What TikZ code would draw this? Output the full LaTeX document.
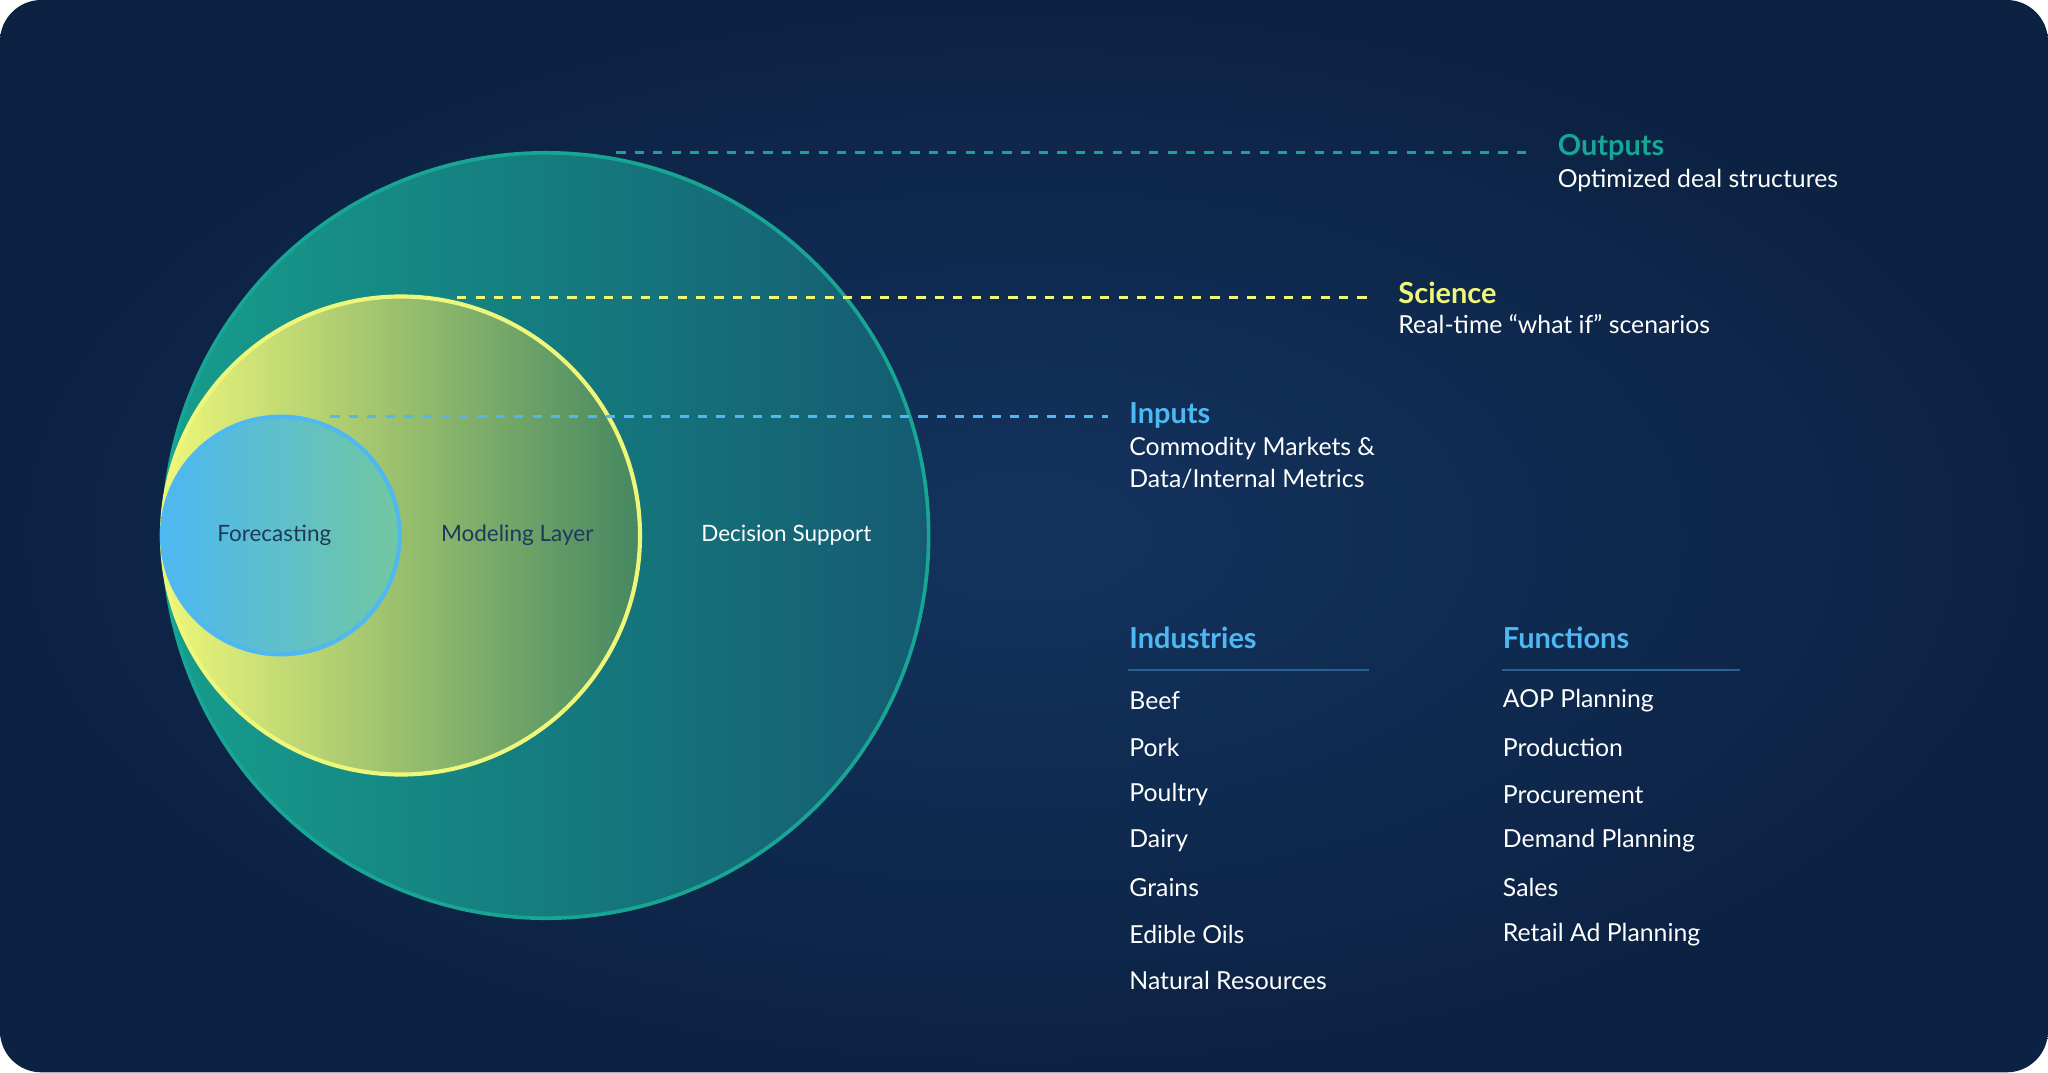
\documentclass[tikz,border=0pt]{standalone}
\usepackage{fontspec}
\setmainfont{Lato}
\definecolor{navy}{HTML}{13335E}
\definecolor{navyedge}{HTML}{0C2243}
\definecolor{tealc}{HTML}{17A594}
\definecolor{yellowc}{HTML}{EEF77A}
\definecolor{bluec}{HTML}{4DB8F2}
\definecolor{darktext}{HTML}{1D3A5C}
\tikzset{
  head/.style={anchor=west, inner sep=0pt, font=\fontsize{6.3pt}{7pt}\selectfont\bfseries},
  item/.style={anchor=west, inner sep=0pt, text=white, font=\fontsize{5.4pt}{6.8pt}\selectfont, align=left},
  lead/.style={dash pattern=on 2pt off 2pt, line width=0.6pt},
  inlabel/.style={font=\fontsize{4.9pt}{6pt}\selectfont}
}
\begin{document}
\begin{tikzpicture}[x=0.01cm, y=-0.01cm]
\useasboundingbox (0,0) rectangle (1568,821);
\fill[white] (0,0) rectangle (1568,821);
\shade[inner color=navy, outer color=navyedge, rounded corners=9pt] (0,0) rectangle (1568,821);

% circles
\shade[left color=tealc!95!black, right color=tealc!35!navy] (418,410) circle (293);
\draw[tealc, line width=0.8pt] (418,410) circle (293);
\shade[left color=yellowc, right color=yellowc!35!tealc!70!black] (307,410) circle (183);
\draw[yellowc, line width=0.9pt] (307,410) circle (183);
\shade[left color=bluec, right color=bluec!40!yellowc!60!tealc] (215,410) circle (91);
\draw[bluec, line width=0.9pt] (215,410) circle (91);

\node[inlabel, text=darktext] (fc) at (210,410) {Forecasting};
\node[inlabel, text=darktext] (ml) at (396,410) {Modeling Layer};
\node[inlabel, text=white] (ds) at (602,410) {Decision Support};

% leaders
\coordinate (outA) at (472,117);
\coordinate (sciA) at (350,228);
\coordinate (inA) at (253,319);
\node[head, text=tealc] (out) at (1192,113) {Outputs};
\node[item] (outd) at (1192,138) {Optimized deal structures};
\node[head, text=yellowc] (sci) at (1070,224) {Science};
\node[item] (scid) at (1070,248) {Real-time “what if” scenarios};
\node[head, text=bluec] (inp) at (864,318) {Inputs};
\node[item] (inpd) at (864,343) {Commodity Markets \&};
\node[item] (inpe) at (864,367) {Data/Internal Metrics};
\draw[lead, tealc] (outA) -- ([xshift=-0.22cm]outA -| out.west);
\draw[lead, yellowc] (sciA) -- ([xshift=-0.22cm]sciA -| sci.west);
\draw[lead, bluec] (inA) -- ([xshift=-0.16cm]inA -| inp.west);

% lists
\node[head, text=bluec] (ind) at (864,488) {Industries};
\node[head, text=bluec] (fun) at (1150,488) {Functions};
\draw[bluec!35!navy, line width=0.5pt] (864,513) -- (1048,513);
\draw[bluec!35!navy, line width=0.5pt] (1150,513) -- (1332,513);
\foreach \t [count=\i] in {Beef, Pork, Poultry, Dairy, Grains, Edible Oils, Natural Resources}
  \node[item] (ind\i) at (864,501+35.7*\i) {\t};
\foreach \t [count=\i] in {AOP Planning, Production, Procurement, Demand Planning, Sales, Retail Ad Planning}
  \node[item] (fun\i) at (1150,501+35.7*\i) {\t};
\end{tikzpicture}
\end{document}
